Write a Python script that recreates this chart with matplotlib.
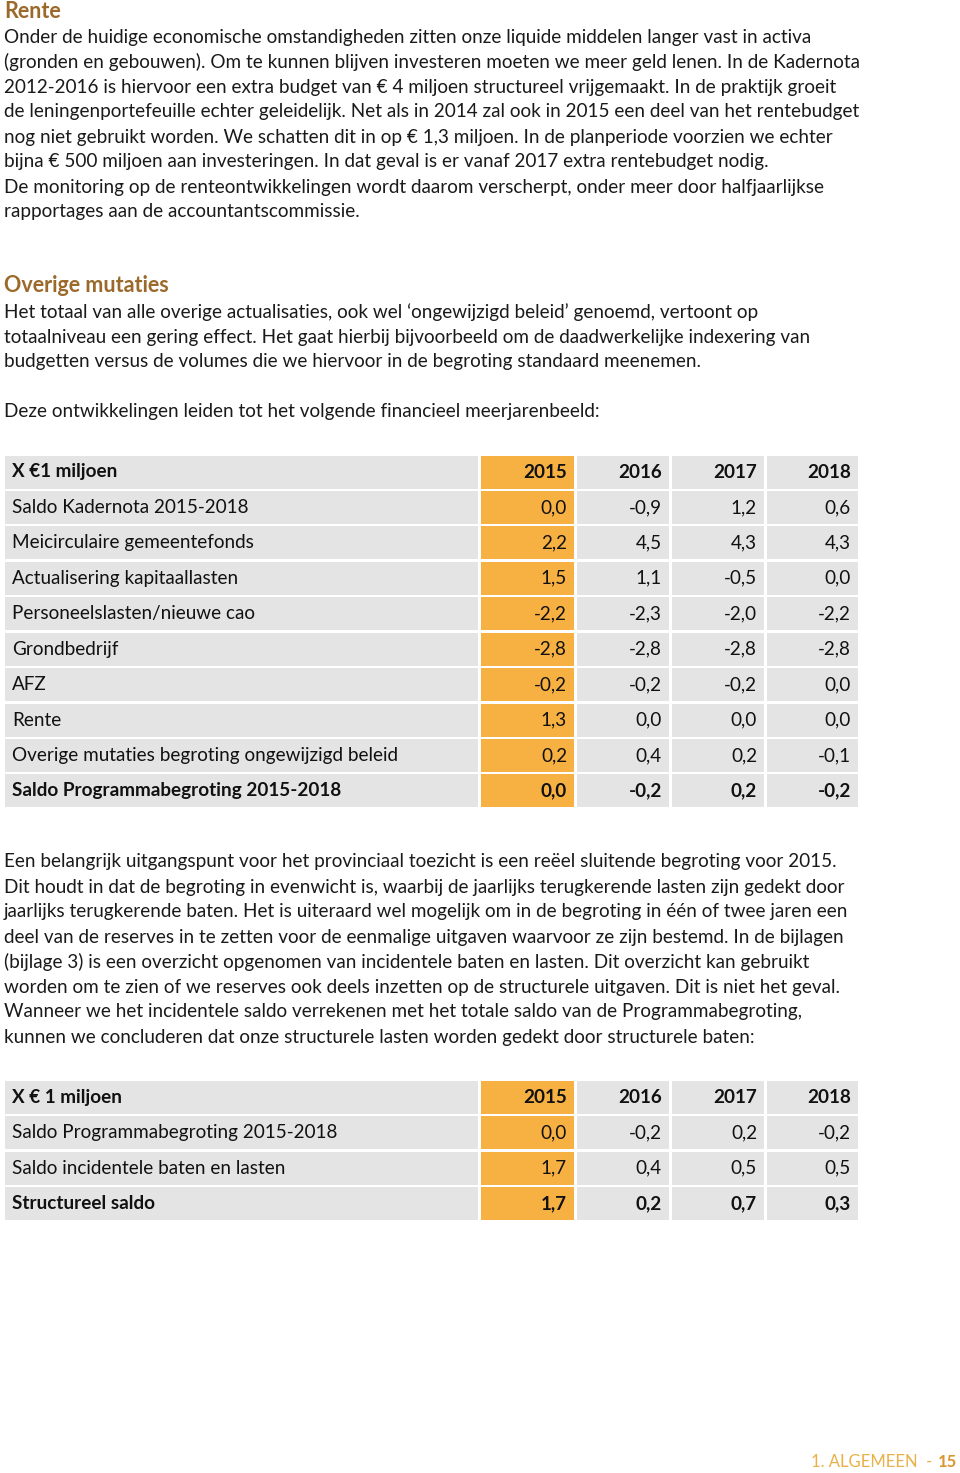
import matplotlib
matplotlib.use("Agg")
import matplotlib.pyplot as plt
from matplotlib.patches import Rectangle

W, H = 960, 1473
FONT = ["Lato", "DejaVu Sans"]
BODY = 13.6
TEXTC = "#1a1a1a"
TITLEC = "#9b6a2a"
GRAY = "#e3e4e3"
ORANGE = "#f7b142"

# ---------------- data ----------------
para1_title = "Rente"
para1_lines = [
    "Onder de huidige economische omstandigheden zitten onze liquide middelen langer vast in activa",
    "(gronden en gebouwen). Om te kunnen blijven investeren moeten we meer geld lenen. In de Kadernota",
    "2012-2016 is hiervoor een extra budget van € 4 miljoen structureel vrijgemaakt. In de praktijk groeit",
    "de leningenportefeuille echter geleidelijk. Net als in 2014 zal ook in 2015 een deel van het rentebudget",
    "nog niet gebruikt worden. We schatten dit in op € 1,3 miljoen. In de planperiode voorzien we echter",
    "bijna € 500 miljoen aan investeringen. In dat geval is er vanaf 2017 extra rentebudget nodig.",
    "De monitoring op de renteontwikkelingen wordt daarom verscherpt, onder meer door halfjaarlijkse",
    "rapportages aan de accountantscommissie.",
]
para2_title = "Overige mutaties"
para2_lines = [
    "Het totaal van alle overige actualisaties, ook wel ‘ongewijzigd beleid’ genoemd, vertoont op",
    "totaalniveau een gering effect. Het gaat hierbij bijvoorbeeld om de daadwerkelijke indexering van",
    "budgetten versus de volumes die we hiervoor in de begroting standaard meenemen.",
]
intro_line = "Deze ontwikkelingen leiden tot het volgende financieel meerjarenbeeld:"

years = ["2015", "2016", "2017", "2018"]

t1_header = "X €1 miljoen"
t1_labels = [
    "Saldo Kadernota 2015-2018",
    "Meicirculaire gemeentefonds",
    "Actualisering kapitaallasten",
    "Personeelslasten/nieuwe cao",
    "Grondbedrijf",
    "AFZ",
    "Rente",
    "Overige mutaties begroting ongewijzigd beleid",
    "Saldo Programmabegroting 2015-2018",
]
t1_2015 = ["0,0", "2,2", "1,5", "-2,2", "-2,8", "-0,2", "1,3", "0,2", "0,0"]
t1_2016 = ["-0,9", "4,5", "1,1", "-2,3", "-2,8", "-0,2", "0,0", "0,4", "-0,2"]
t1_2017 = ["1,2", "4,3", "-0,5", "-2,0", "-2,8", "-0,2", "0,0", "0,2", "0,2"]
t1_2018 = ["0,6", "4,3", "0,0", "-2,2", "-2,8", "0,0", "0,0", "-0,1", "-0,2"]
t1_bold = [False] * 8 + [True]

para3_lines = [
    "Een belangrijk uitgangspunt voor het provinciaal toezicht is een reëel sluitende begroting voor 2015.",
    "Dit houdt in dat de begroting in evenwicht is, waarbij de jaarlijks terugkerende lasten zijn gedekt door",
    "jaarlijks terugkerende baten. Het is uiteraard wel mogelijk om in de begroting in één of twee jaren een",
    "deel van de reserves in te zetten voor de eenmalige uitgaven waarvoor ze zijn bestemd. In de bijlagen",
    "(bijlage 3) is een overzicht opgenomen van incidentele baten en lasten. Dit overzicht kan gebruikt",
    "worden om te zien of we reserves ook deels inzetten op de structurele uitgaven. Dit is niet het geval.",
    "Wanneer we het incidentele saldo verrekenen met het totale saldo van de Programmabegroting,",
    "kunnen we concluderen dat onze structurele lasten worden gedekt door structurele baten:",
]

t2_header = "X € 1 miljoen"
t2_labels = ["Saldo Programmabegroting 2015-2018", "Saldo incidentele baten en lasten", "Structureel saldo"]
t2_2015 = ["0,0", "1,7", "1,7"]
t2_2016 = ["-0,2", "0,4", "0,2"]
t2_2017 = ["0,2", "0,5", "0,7"]
t2_2018 = ["-0,2", "0,5", "0,3"]
t2_bold = [False, False, True]

footer_section = "1. ALGEMEEN  -"
footer_page = "15"

# ---------------- drawing ----------------
fig = plt.figure(figsize=(W / 100, H / 100), dpi=100)
ax = fig.add_axes([0, 0, 1, 1])
ax.set_xlim(0, W)
ax.set_ylim(H, 0)
ax.axis("off")

LX = 4


def body(y, s, **kw):
    ax.text(LX, y, s, fontsize=BODY, family=FONT, color=TEXTC, va="center", ha="left", **kw)


def title(y, s):
    ax.text(LX, y, s, fontsize=15.5, family=FONT, color=TITLEC, va="center", ha="left", fontweight="bold")


title(12, para1_title)
for i, s in enumerate(para1_lines):
    body(37 + 25 * i, s)

title(286, para2_title)
for i, s in enumerate(para2_lines):
    body(312 + 25 * i, s)
body(412, intro_line)

col_left = [5, 481, 577, 672, 767]
col_right = [478, 574, 669, 764, 858]
CELL_H = 33.0


def draw_table(top_center, pitch, header, labels, cols, bolds):
    nrows = len(labels) + 1
    for r in range(nrows):
        yc = top_center + pitch * r
        is_bold = True if r == 0 else bolds[r - 1]
        for c in range(5):
            fc = ORANGE if c == 1 else GRAY
            ax.add_patch(Rectangle((col_left[c], yc - CELL_H / 2), col_right[c] - col_left[c], CELL_H,
                                   facecolor=fc, edgecolor="none"))
        fw = "bold" if is_bold else "normal"
        lab = header if r == 0 else labels[r - 1]
        ax.text(12, yc, lab, fontsize=BODY, family=FONT, color="#111111",
                va="center", ha="left", fontweight=fw)
        for c in range(4):
            val = years[c] if r == 0 else cols[c][r - 1]
            ax.text(col_right[c + 1] - 7, yc, val, fontsize=BODY, family=FONT, color="#111111",
                    va="center", ha="right", fontweight=fw)


draw_table(472, 35.44, t1_header, t1_labels, [t1_2015, t1_2016, t1_2017, t1_2018], t1_bold)

for i, s in enumerate(para3_lines):
    body(862 + 25 * i, s)

draw_table(1097.5, 35.3, t2_header, t2_labels, [t2_2015, t2_2016, t2_2017, t2_2018], t2_bold)

ax.text(957, 1462, footer_page, fontsize=12, family=FONT, color="#d9962c",
        va="center", ha="right", fontweight="bold")
ax.text(932, 1462, footer_section, fontsize=12, family=FONT, color="#ebb048",
        va="center", ha="right")

fig.savefig("out.png", dpi=100, facecolor="white")
